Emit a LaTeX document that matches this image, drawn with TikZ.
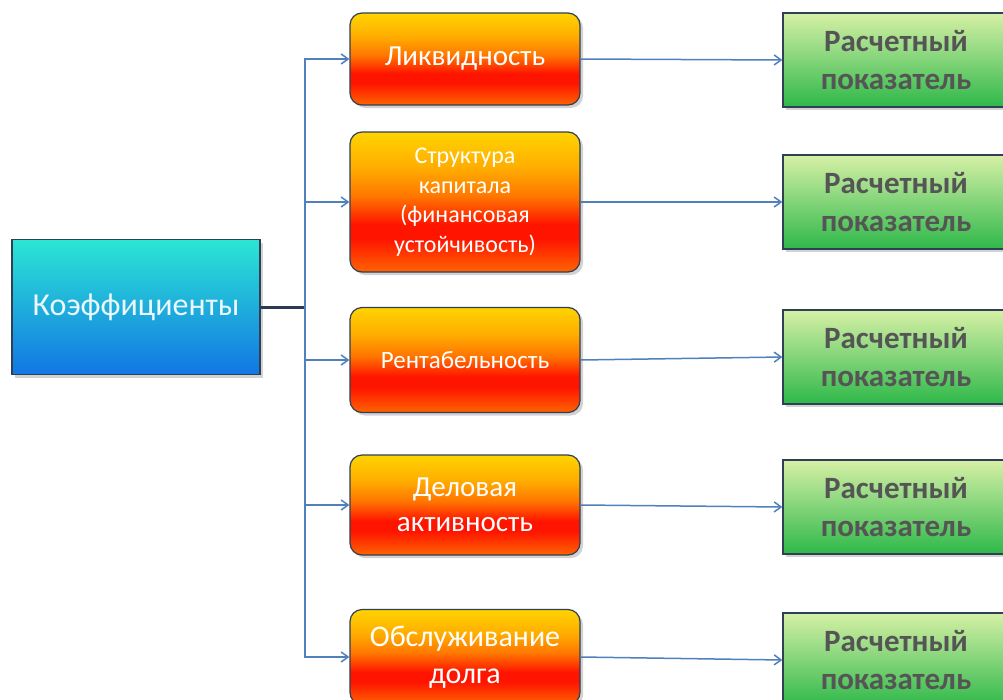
\documentclass[tikz,border=0pt]{standalone}
\usepackage{fontspec}
\setmainfont{Carlito}
\usetikzlibrary{positioning, arrows.meta, shadows}

\definecolor{linkblue}{HTML}{4F81BD}
\definecolor{hubdark}{HTML}{2B3A55}
\definecolor{boxedge}{HTML}{2E3F56}
\definecolor{textgray}{HTML}{555555}
\definecolor{ortop}{HTML}{FFD400}
\definecolor{orhigh}{HTML}{FFAC00}
\definecolor{ormid}{HTML}{FF7600}
\definecolor{orred}{HTML}{FF1400}
\definecolor{orbot}{HTML}{FF6400}
\definecolor{grtop}{HTML}{D6F0A6}
\definecolor{grbot}{HTML}{2EB84A}
\definecolor{bltop}{HTML}{2BE6D4}
\definecolor{blbot}{HTML}{1276E4}

% shadings: the box covers 25bp..75bp
\pgfdeclareverticalshading{orangefill}{100bp}{color(0bp)=(orbot); color(25bp)=(orbot); color(37bp)=(orred); color(42bp)=(orred); color(52bp)=(ormid); color(62bp)=(orhigh); color(75bp)=(ortop); color(100bp)=(ortop)}
\pgfdeclareverticalshading{greenfill}{100bp}{color(0bp)=(grbot); color(25bp)=(grbot); color(75bp)=(grtop); color(100bp)=(grtop)}
\pgfdeclareverticalshading{bluefill}{100bp}{color(0bp)=(blbot); color(25bp)=(blbot); color(75bp)=(bltop); color(100bp)=(bltop)}

\tikzset{
  mainbox/.style={draw=boxedge, line width=1.2pt, shading=bluefill, minimum width=248pt, minimum height=135pt,
    text=cyan!8!white, font=\fontsize{32}{36}\selectfont, drop shadow={shadow xshift=3pt, shadow yshift=-3pt, opacity=0.35}},
  groupbox/.style={draw=boxedge, line width=1.2pt, rounded corners=12pt, shading=orangefill, minimum width=230pt,
    text=white, align=center, drop shadow={shadow xshift=3pt, shadow yshift=-3pt, opacity=0.35}},
  calcbox/.style={draw=boxedge, line width=1.2pt, shading=greenfill, minimum width=226pt, minimum height=94pt,
    text=textgray, align=center, font=\bfseries\fontsize{31}{38}\selectfont, drop shadow={shadow xshift=3pt, shadow yshift=-3pt, opacity=0.35}},
  link/.style={draw=linkblue, line width=1.5pt, -{Straight Barb[length=7pt, width=10pt]}}
}

\newcommand{\calctext}{Расчетный\\показатель}

\begin{document}
\begin{tikzpicture}[x=1pt, y=-1pt]
  \useasboundingbox (0,0) rectangle (1003,699);
  \fill[white] (0,0) rectangle (1003,699);

  % main box
  \node[mainbox] (koef) at (136,307) {Коэффициенты};

  % groups of ratios
  \node[groupbox, minimum height=92pt, font=\fontsize{29}{32}\selectfont] (liq) at (465,59) {Ликвидность};
  \node[groupbox, minimum height=140pt, font=\fontsize{24}{29.5}\selectfont] (capital) at (465,202)
    {Структура\\капитала\\(финансовая\\устойчивость)};
  \node[groupbox, minimum height=105pt, font=\fontsize{25}{30}\selectfont] (profit) at (465,360) {Рентабельность};
  \node[groupbox, minimum height=100pt, font=\fontsize{29}{35}\selectfont] (activity) at (465,505) {Деловая\\активность};
  \node[groupbox, minimum height=95pt, font=\fontsize{30}{37}\selectfont] (debt) at (465,657) {Обслуживание\\долга};

  % calculated indicators
  \node[calcbox] (c1) at (896,60) {\calctext};
  \node[calcbox] (c2) at (896,202) {\calctext};
  \node[calcbox] (c3) at (896,357) {\calctext};
  \node[calcbox] (c4) at (896,507) {\calctext};
  \node[calcbox] (c5) at (896,660) {\calctext};

  % hub
  \coordinate (hub) at (305,307);
  \draw[hubdark, line width=3pt] (koef.east) -- (hub);

  \foreach \g in {liq, capital, profit, activity, debt}
    \draw[link] (hub) |- (\g.west);

  \draw[link] (liq.east) -- (c1.west);
  \draw[link] (capital.east) -- (c2.west);
  \draw[link] (profit.east) -- (c3.west);
  \draw[link] (activity.east) -- (c4.west);
  \draw[link] (debt.east) -- (c5.west);
\end{tikzpicture}
\end{document}
